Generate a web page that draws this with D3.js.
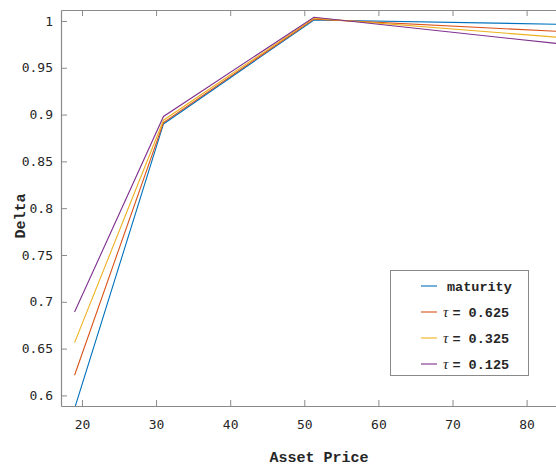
<!DOCTYPE html>
<html>
<head>
<meta charset="utf-8">
<script src="https://cdn.jsdelivr.net/npm/d3@7"></script>
<style>
  html, body { margin: 0; padding: 0; background: #fff; }
  svg { display: block; }
</style>
</head>
<body>
<svg id="chart" width="556" height="467"></svg>
<script>
// Asset prices at which delta was evaluated
const assetPrice = [19, 31, 51.3, 87];

// Delta for each time-to-maturity curve
const deltaMaturity = [0.586, 0.890, 1.001, 0.9961];
const deltaTau0625  = [0.6216, 0.8915, 1.002, 0.9878];
const deltaTau0325  = [0.6564, 0.894, 1.003, 0.9808];
const deltaTau0125  = [0.689, 0.898, 1.004, 0.9734];

const seriesNames  = ["maturity", "0.625", "0.325", "0.125"];
const seriesColors = ["#0072BD", "#D95319", "#EDB120", "#7E2F8E"];

const xTicks = [20, 30, 40, 50, 60, 70, 80];
const yTicks = [0.6, 0.65, 0.7, 0.75, 0.8, 0.85, 0.9, 0.95, 1];

const allSeries = [deltaMaturity, deltaTau0625, deltaTau0325, deltaTau0125];

const svg = d3.select("#chart");
const plot = { left: 61, right: 577, top: 10, bottom: 406 };

const x = d3.scaleLinear().domain([17.17, 86.8]).range([plot.left, plot.right]);
const y = d3.scaleLinear().domain([0.5887, 1.0117]).range([plot.bottom, plot.top]);

const axisColor = "#8a8a8a";
const textColor = "#262626";

svg.append("defs").append("clipPath").attr("id", "plotClip")
  .append("rect")
  .attr("x", plot.left).attr("y", plot.top)
  .attr("width", plot.right - plot.left).attr("height", plot.bottom - plot.top);

// Curves
const line = d3.line().x((d, i) => x(assetPrice[i])).y(d => y(d));
const curves = svg.append("g").attr("clip-path", "url(#plotClip)");
allSeries.forEach((s, k) => {
  curves.append("path")
    .datum(s)
    .attr("d", line)
    .attr("fill", "none")
    .attr("stroke", seriesColors[k])
    .attr("stroke-width", 1.1);
});

// Axes: ticks point inwards, labels outside
const xAxis = d3.axisBottom(x).tickValues(xTicks).tickSizeInner(-6).tickSizeOuter(0).tickPadding(14);
const yAxis = d3.axisLeft(y).tickValues(yTicks).tickFormat(d => String(d)).tickSizeInner(-6).tickSizeOuter(0).tickPadding(8);
const xTop = d3.axisTop(x).tickValues(xTicks).tickSizeInner(-6).tickSizeOuter(0).tickFormat("");

function styleAxis(g) {
  g.select(".domain").attr("stroke", axisColor).attr("stroke-width", 1.2);
  g.selectAll(".tick line").attr("stroke", axisColor).attr("stroke-width", 1);
  g.selectAll(".tick text")
    .attr("fill", textColor)
    .style("font-family", "'DejaVu Sans Mono', monospace")
    .style("font-size", "13px");
}

svg.append("g").attr("transform", `translate(0,${plot.bottom})`).call(xAxis).call(styleAxis);
svg.append("g").attr("transform", `translate(${plot.left},0)`).call(yAxis).call(styleAxis);
svg.append("g").attr("transform", `translate(0,${plot.top})`).call(xTop).call(styleAxis);

// Axis titles
svg.append("text")
  .attr("x", (plot.left + plot.right) / 2)
  .attr("y", 462)
  .attr("text-anchor", "middle")
  .attr("fill", textColor)
  .style("font-family", "'Liberation Mono', 'Courier New', monospace")
  .style("font-weight", "bold")
  .style("font-size", "15px")
  .text("Asset Price");

svg.append("text")
  .attr("transform", `translate(25,${(plot.top + plot.bottom) / 2 + 8}) rotate(-90)`)
  .attr("text-anchor", "middle")
  .attr("fill", textColor)
  .style("font-family", "'Liberation Mono', 'Courier New', monospace")
  .style("font-weight", "bold")
  .style("font-size", "15px")
  .text("Delta");

// Legend
const legend = svg.append("g");
legend.append("rect")
  .attr("x", 390.5).attr("y", 270.5)
  .attr("width", 138).attr("height", 105)
  .attr("fill", "#fff")
  .attr("stroke", axisColor)
  .attr("stroke-width", 1);

seriesNames.forEach((name, k) => {
  const ry = 287 + k * 26;
  legend.append("line")
    .attr("x1", 421).attr("x2", 437)
    .attr("y1", ry - 1).attr("y2", ry - 1)
    .attr("stroke", seriesColors[k])
    .attr("stroke-width", 1.1);
  const t = legend.append("text")
    .attr("x", k === 0 ? 447 : 443)
    .attr("y", ry + 4)
    .attr("fill", textColor)
    .style("font-family", "'Liberation Mono', 'Courier New', monospace")
    .style("font-weight", "bold")
    .style("font-size", "13.5px");
  if (k === 0) {
    t.text(name);
  } else {
    t.append("tspan")
      .style("font-family", "'Liberation Serif', serif")
      .style("font-style", "italic")
      .style("font-weight", "normal")
      .style("font-size", "15px")
      .text("τ");
    t.append("tspan").attr("dx", 4).text("= " + name);
  }
});
</script>
</body>
</html>
